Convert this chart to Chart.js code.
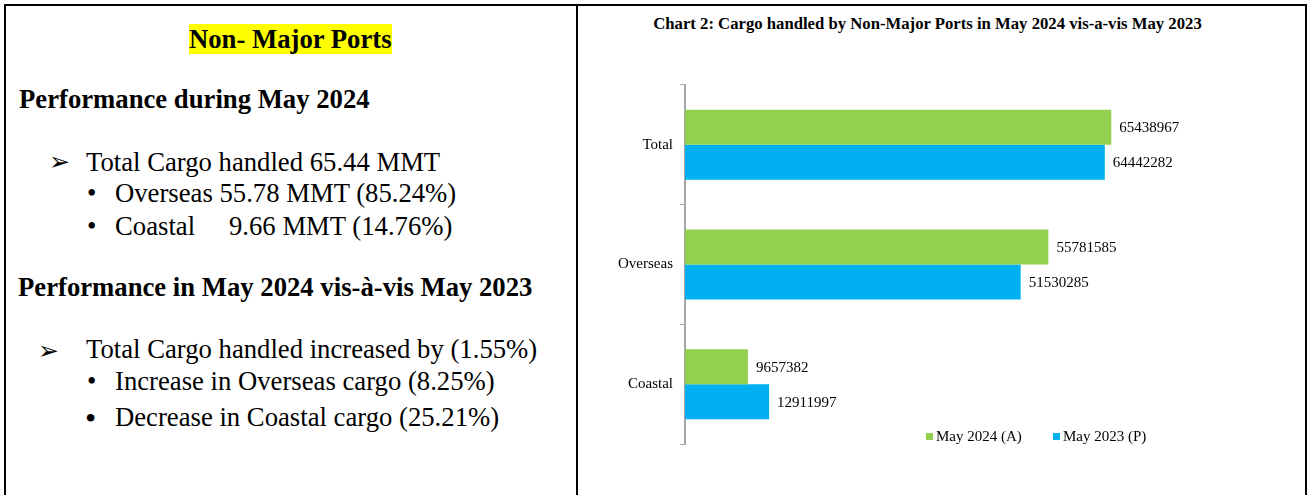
<!DOCTYPE html>
<html lang="en">
<head>
  <meta charset="UTF-8">
  <title>Non-Major Ports</title>
  <script src="https://cdn.jsdelivr.net/npm/chart.js"></script>
  <style>
    body { margin: 0; background: #fff; font-family: "Liberation Serif", serif; color: #000; }
    .page { position: relative; width: 1311px; height: 495px; overflow: hidden; }
    .frame { position: absolute; left: 4px; top: 4px; width: 1299px; height: 520px; border: 2px solid #000; }
    .divider { position: absolute; left: 576px; top: 4px; width: 2px; height: 520px; background: #000; }
    .t { position: absolute; font-size: 26.7px; line-height: 1; white-space: pre; }
    .b { font-weight: bold; }
    .hl { background: #ffff00; line-height: normal; }
    .arrow { position: absolute; font-family: "DejaVu Sans"; font-size: 25px; line-height: 1; }
    .chart-title { position: absolute; left: 564px; width: 727px; top: 16px; text-align: center;
      font-weight: bold; font-size: 16.7px; line-height: 1; white-space: nowrap; }
    .chart-box { position: absolute; left: 590px; top: 60px; width: 700px; height: 400px; }
    .legend { position: absolute; top: 429px; font-size: 15px; line-height: 1; white-space: nowrap; }
    .legend i { display: inline-block; width: 7px; height: 7px; margin-right: 3px; vertical-align: 1px; }
  </style>
</head>
<body>
<div class="page">
  <div class="frame"></div>
  <div class="divider"></div>

  <!-- left cell -->
  <div class="t b" style="left:189px; top:24px;"><span class="hl">Non- Major Ports</span></div>
  <div class="t b" style="left:19px; top:86px;">Performance during May 2024</div>

  <div class="arrow" style="left:49px; top:149px;">&#10146;</div>
  <div class="t" style="left:86px; top:149px;">Total Cargo handled 65.44 MMT</div>
  <div class="t" style="left:87px; top:180px;">&#8226;</div>
  <div class="t" style="left:115px; top:180px;">Overseas 55.78 MMT (85.24%)</div>
  <div class="t" style="left:87px; top:213px;">&#8226;</div>
  <div class="t" style="left:115px; top:213px;">Coastal</div>
  <div class="t" style="left:229px; top:213px;">9.66 MMT (14.76%)</div>

  <div class="t b" style="left:18px; top:274px;">Performance in May 2024 vis-à-vis May 2023</div>

  <div class="arrow" style="left:38px; top:338px;">&#10146;</div>
  <div class="t" style="left:86px; top:336px;">Total Cargo handled increased by (1.55%)</div>
  <div class="t" style="left:87px; top:368px;">&#8226;</div>
  <div class="t" style="left:115px; top:368px;">Increase in Overseas cargo (8.25%)</div>
  <div class="t" style="left:85px; top:402px; font-size:32px;">&#8226;</div>
  <div class="t" style="left:115px; top:404px;">Decrease in Coastal cargo (25.21%)</div>

  <!-- right cell -->
  <div class="chart-title">Chart 2: Cargo handled by Non-Major Ports in May 2024 vis-a-vis May 2023</div>
  <div class="chart-box"><canvas id="cargoChart"></canvas></div>
  <div class="legend" style="left:926px;"><i style="background:#92D050"></i>May 2024 (A)</div>
  <div class="legend" style="left:1053px;"><i style="background:#00B0F0"></i>May 2023 (P)</div>
</div>

<script>
// chart data (tonnes)
const categories = ['Total', 'Overseas', 'Coastal'];
const may2024 = [65438967, 55781585, 9657382];
const may2023 = [64442282, 51530285, 12911997];
const seriesNames = ['May 2024 (A)', 'May 2023 (P)'];

// writes the value next to the end of each bar
const valueLabels = {
  id: 'valueLabels',
  afterDatasetsDraw(chart) {
    const ctx = chart.ctx;
    ctx.save();
    ctx.font = '15px "Liberation Serif"';
    ctx.fillStyle = '#000';
    ctx.textBaseline = 'middle';
    ctx.textAlign = 'left';
    chart.data.datasets.forEach((ds, i) => {
      chart.getDatasetMeta(i).data.forEach((bar, j) => {
        ctx.fillText(ds.data[j], bar.x + 8, bar.y + 1);
      });
    });
    ctx.restore();
  }
};

new Chart(document.getElementById('cargoChart'), {
  type: 'bar',
  data: {
    labels: categories,
    datasets: [
      { label: seriesNames[0], data: may2024, backgroundColor: '#92D050' },
      { label: seriesNames[1], data: may2023, backgroundColor: '#00B0F0' }
    ]
  },
  options: {
    indexAxis: 'y',
    responsive: true,
    maintainAspectRatio: false,
    animation: false,
    categoryPercentage: 0.585,
    barPercentage: 1.0,
    layout: { padding: { top: 25, bottom: 15, right: 149, left: 0 } },
    plugins: {
      legend: { display: false },
      tooltip: { enabled: false },
      title: { display: false }
    },
    scales: {
      x: { display: false, min: 0, max: 70000000 },
      y: {
        afterFit(scale) { scale.width = 95; },
        grid: { display: true, drawOnChartArea: false, drawTicks: true, tickLength: 5, color: '#a6a6a6', lineWidth: 1 },
        border: { display: true, color: '#a6a6a6', width: 2 },
        ticks: { color: '#000', padding: 7, font: { family: 'Liberation Serif', size: 15 } }
      }
    }
  },
  plugins: [valueLabels]
});
</script>
</body>
</html>
